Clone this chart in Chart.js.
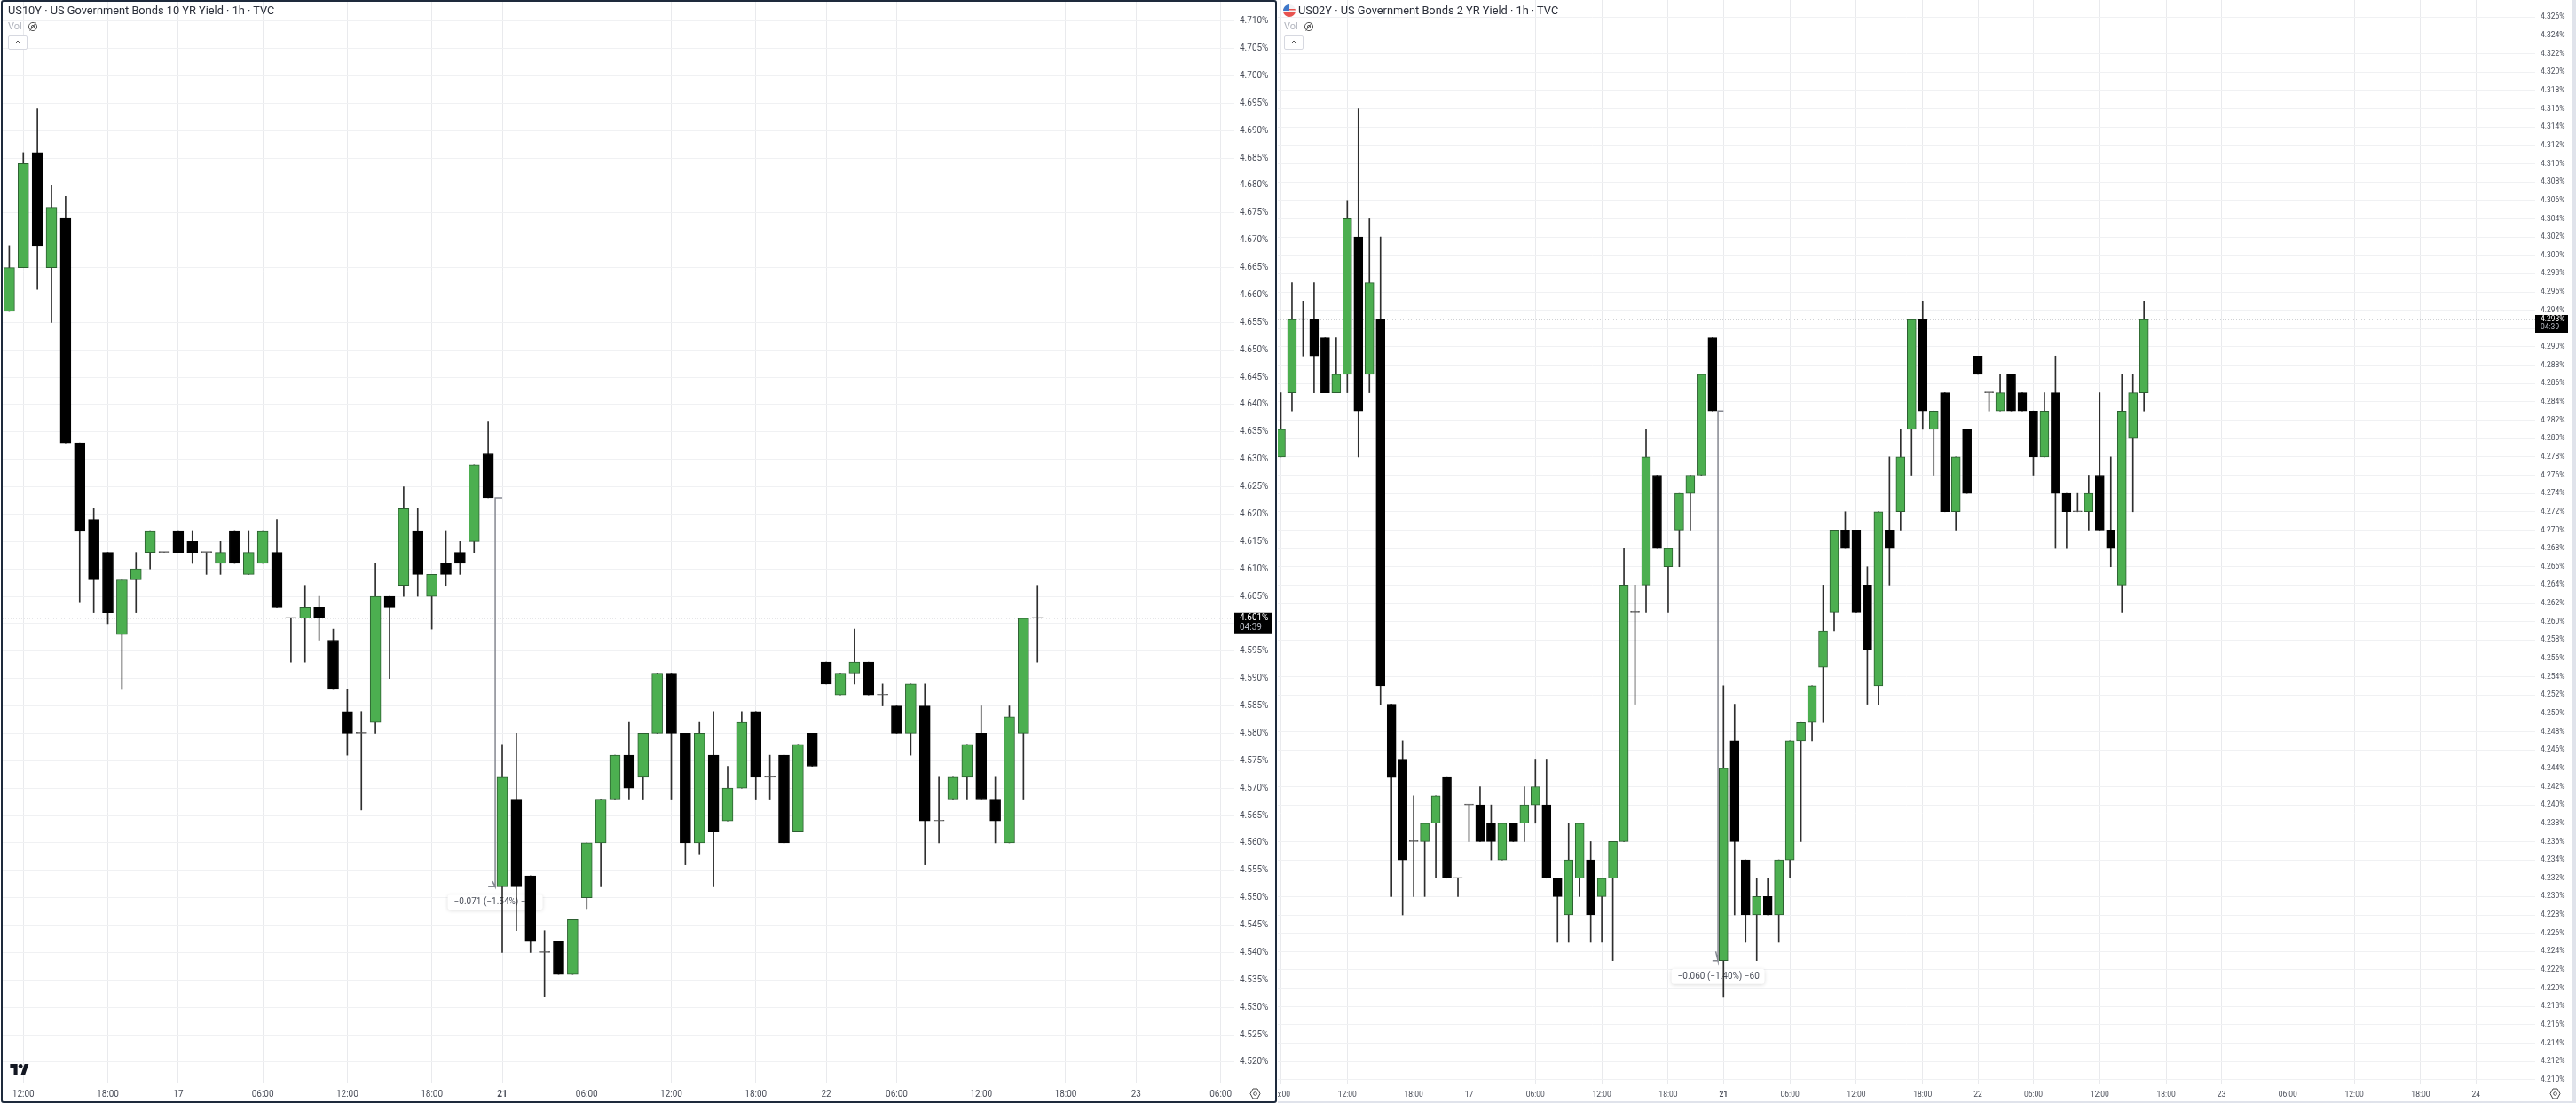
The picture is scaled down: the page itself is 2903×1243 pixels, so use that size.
<!DOCTYPE html>
<html>
<head>
<meta charset="utf-8">
<title>US10Y / US02Y</title>
<script src="https://cdn.jsdelivr.net/npm/chart.js@4/dist/chart.umd.min.js"></script>
<style>
    html, body { margin: 0; padding: 0; background: #fff; width: 2903px; height: 1243px; overflow: hidden; font-family: Roboto, sans-serif; }
    canvas { position: absolute; display: block; }
    .frame { position: absolute; box-sizing: border-box; pointer-events: none; }
    .title { position: absolute; font-size: 12.8px; line-height: 16px; color: #2a2e39; white-space: nowrap; }
    .vol { position: absolute; font-size: 11px; line-height: 14px; color: #b2b5be; }
    .icon { position: absolute; }
    .collapse { position: absolute; box-sizing: border-box; width: 22px; height: 16px; border: 1px solid #d6d8e0; border-radius: 2px; background: #fff; }
</style>
</head>
<body>
<canvas id="chart10y" width="1435" height="1241" style="left:3px;top:0"></canvas>
<canvas id="chart02y" width="1458" height="1241" style="left:1440px;top:0"></canvas>

<div class="frame" style="left:1px;top:0;width:1438px;height:1243px;border:2px solid #1e2a3c;border-radius:3px"></div>
<div class="frame" style="left:1440px;top:1241px;width:1463px;height:2px;background:#e0e3eb"></div>
<div class="frame" style="left:2898px;top:0;width:5px;height:1243px;background:#e0e3eb"></div>

<div class="title" style="left:9px;top:4px">US10Y · US Government Bonds 10 YR Yield · 1h · TVC</div>
<div class="vol" style="left:9px;top:23px">Vol</div>
<svg class="icon" style="left:31px;top:24px" width="12" height="12" viewBox="0 0 12 12" fill="none" stroke="#555" stroke-width="1"><circle cx="6" cy="6" r="4.6"/><circle cx="6" cy="6" r="1.6"/><path d="M2.5 10.5 9.5 1.5"/></svg>
<div class="collapse" style="left:9px;top:40px"></div>
<svg class="icon" style="left:16px;top:44px" width="8" height="6" viewBox="0 0 8 6" fill="none" stroke="#555" stroke-width="1"><path d="M1 5 4 2l3 3"/></svg>
<svg class="icon" style="left:11px;top:1199px" width="22" height="13" viewBox="0 0 36 22" fill="#131722"><path d="M14 22H7V7H0V0h14v22zM28 22h-8L27.5 0h8L28 22z"/><circle cx="20" cy="4" r="4"/></svg>
<svg class="icon" style="left:1408px;top:1226px" width="13" height="13" viewBox="0 0 13 13" fill="none" stroke="#444" stroke-width="1"><path d="M4 1h5l3 5.500-3 5.500H4L1 6.500z"/><circle cx="6.500" cy="6.500" r="1.800"/></svg>

<svg class="icon" style="left:1446px;top:5px" width="14" height="14" viewBox="0 0 14 14"><defs><clipPath id="flagClip"><circle cx="7" cy="7" r="7"/></clipPath></defs><g clip-path="url(#flagClip)"><rect width="14" height="14" fill="#f3f3f5"/><rect y="9" width="14" height="5" fill="#e8534f"/><rect y="5" width="14" height="1.500" fill="#e8534f"/><rect width="7" height="7" fill="#3f78c9"/></g></svg>
<div class="title" style="left:1463px;top:4px">US02Y · US Government Bonds 2 YR Yield · 1h · TVC</div>
<div class="vol" style="left:1447px;top:23px">Vol</div>
<svg class="icon" style="left:1469px;top:24px" width="12" height="12" viewBox="0 0 12 12" fill="none" stroke="#555" stroke-width="1"><circle cx="6" cy="6" r="4.6"/><circle cx="6" cy="6" r="1.6"/><path d="M2.5 10.5 9.5 1.5"/></svg>
<div class="collapse" style="left:1447px;top:40px"></div>
<svg class="icon" style="left:1454px;top:44px" width="8" height="6" viewBox="0 0 8 6" fill="none" stroke="#555" stroke-width="1"><path d="M1 5 4 2l3 3"/></svg>
<svg class="icon" style="left:2873px;top:1226px" width="13" height="13" viewBox="0 0 13 13" fill="none" stroke="#444" stroke-width="1"><path d="M4 1h5l3 5.500-3 5.500H4L1 6.500z"/><circle cx="6.500" cy="6.500" r="1.800"/></svg>

<script>
// ---- US10Y hourly candles ----
const us10yOpen = [
    4.657, 4.665, 4.686, 4.665, 4.674, 4.633, 4.619, 4.613, 4.598, 4.608,
    4.613, 4.613, 4.617, 4.615, 4.613, 4.611, 4.617, 4.609, 4.611, 4.613,
    4.601, 4.601, 4.603, 4.597, 4.584, 4.580, 4.582, 4.605, 4.607, 4.617,
    4.605, 4.611, 4.613, 4.615, 4.631, 4.552, 4.568, 4.554, 4.540, 4.542,
    4.536, 4.550, 4.560, 4.568, 4.576, 4.572, 4.580, 4.591, 4.580, 4.560,
    4.576, 4.564, 4.570, 4.584, 4.572, 4.576, 4.562, 4.580, 4.593, 4.587,
    4.591, 4.593, 4.587, 4.585, 4.580, 4.585, 4.564, 4.568, 4.572, 4.580,
    4.568, 4.560, 4.580, 4.601
];
const us10yClose = [
    4.665, 4.684, 4.669, 4.676, 4.633, 4.617, 4.608, 4.602, 4.608, 4.610,
    4.617, 4.613, 4.613, 4.613, 4.613, 4.613, 4.611, 4.613, 4.617, 4.603,
    4.601, 4.603, 4.601, 4.588, 4.580, 4.580, 4.605, 4.603, 4.621, 4.609,
    4.609, 4.609, 4.611, 4.629, 4.623, 4.572, 4.552, 4.542, 4.540, 4.536,
    4.546, 4.560, 4.568, 4.576, 4.570, 4.580, 4.591, 4.580, 4.560, 4.580,
    4.562, 4.570, 4.582, 4.572, 4.572, 4.560, 4.578, 4.574, 4.589, 4.591,
    4.593, 4.587, 4.587, 4.580, 4.589, 4.564, 4.564, 4.572, 4.578, 4.568,
    4.564, 4.583, 4.601, 4.601
];
const us10yHigh = [
    4.669, 4.686, 4.694, 4.680, 4.678, 4.633, 4.621, 4.613, 4.608, 4.613,
    4.617, 4.613, 4.617, 4.617, 4.613, 4.615, 4.617, 4.617, 4.617, 4.619,
    4.601, 4.607, 4.605, 4.599, 4.588, 4.584, 4.611, 4.605, 4.625, 4.621,
    4.609, 4.617, 4.615, 4.629, 4.637, 4.578, 4.580, 4.554, 4.544, 4.542,
    4.546, 4.560, 4.568, 4.576, 4.582, 4.580, 4.591, 4.591, 4.580, 4.582,
    4.584, 4.574, 4.584, 4.584, 4.576, 4.576, 4.578, 4.580, 4.593, 4.591,
    4.599, 4.593, 4.589, 4.585, 4.589, 4.589, 4.572, 4.572, 4.578, 4.585,
    4.572, 4.585, 4.601, 4.607
];
const us10yLow = [
    4.657, 4.665, 4.661, 4.655, 4.633, 4.604, 4.602, 4.600, 4.588, 4.602,
    4.610, 4.613, 4.613, 4.611, 4.609, 4.609, 4.611, 4.609, 4.611, 4.603,
    4.593, 4.593, 4.597, 4.588, 4.576, 4.566, 4.580, 4.590, 4.605, 4.605,
    4.599, 4.607, 4.609, 4.613, 4.623, 4.540, 4.544, 4.540, 4.532, 4.536,
    4.536, 4.548, 4.552, 4.568, 4.568, 4.568, 4.580, 4.568, 4.556, 4.558,
    4.552, 4.564, 4.570, 4.568, 4.568, 4.560, 4.562, 4.574, 4.589, 4.587,
    4.589, 4.587, 4.585, 4.580, 4.576, 4.556, 4.560, 4.568, 4.568, 4.568,
    4.560, 4.560, 4.568, 4.593
];

// ---- US02Y hourly candles ----
const us02yOpen = [
    4.278, 4.285, 4.293, 4.293, 4.291, 4.285, 4.287, 4.302, 4.287, 4.293,
    4.251, 4.245, 4.236, 4.236, 4.238, 4.243, 4.232, 4.240, 4.240, 4.238,
    4.234, 4.238, 4.238, 4.240, 4.240, 4.232, 4.228, 4.232, 4.234, 4.230,
    4.232, 4.236, 4.261, 4.264, 4.276, 4.266, 4.270, 4.274, 4.276, 4.291,
    4.223, 4.247, 4.234, 4.228, 4.230, 4.228, 4.234, 4.247, 4.249, 4.255,
    4.261, 4.270, 4.270, 4.264, 4.253, 4.270, 4.272, 4.281, 4.293, 4.281,
    4.285, 4.272, 4.281, 4.289, 4.285, 4.283, 4.287, 4.285, 4.283, 4.278,
    4.285, 4.274, 4.272, 4.272, 4.276, 4.270, 4.264, 4.280, 4.285
];
const us02yClose = [
    4.281, 4.293, 4.293, 4.289, 4.285, 4.287, 4.304, 4.283, 4.297, 4.253,
    4.243, 4.234, 4.236, 4.238, 4.241, 4.232, 4.232, 4.240, 4.236, 4.236,
    4.238, 4.236, 4.240, 4.242, 4.232, 4.230, 4.234, 4.238, 4.228, 4.232,
    4.236, 4.264, 4.261, 4.278, 4.268, 4.268, 4.274, 4.276, 4.287, 4.283,
    4.244, 4.236, 4.228, 4.230, 4.228, 4.234, 4.247, 4.249, 4.253, 4.259,
    4.270, 4.268, 4.261, 4.257, 4.272, 4.268, 4.278, 4.293, 4.283, 4.283,
    4.272, 4.278, 4.274, 4.287, 4.285, 4.285, 4.283, 4.283, 4.278, 4.283,
    4.274, 4.272, 4.272, 4.274, 4.270, 4.268, 4.283, 4.285, 4.293
];
const us02yHigh = [
    4.285, 4.297, 4.295, 4.297, 4.291, 4.291, 4.306, 4.316, 4.304, 4.302,
    4.251, 4.247, 4.241, 4.238, 4.241, 4.243, 4.232, 4.240, 4.242, 4.240,
    4.238, 4.238, 4.242, 4.245, 4.245, 4.232, 4.238, 4.238, 4.236, 4.232,
    4.236, 4.268, 4.264, 4.281, 4.276, 4.268, 4.274, 4.276, 4.287, 4.291,
    4.253, 4.251, 4.234, 4.232, 4.232, 4.234, 4.247, 4.249, 4.253, 4.264,
    4.270, 4.272, 4.270, 4.266, 4.272, 4.278, 4.281, 4.293, 4.295, 4.283,
    4.285, 4.278, 4.281, 4.289, 4.285, 4.287, 4.287, 4.285, 4.283, 4.285,
    4.289, 4.274, 4.274, 4.276, 4.285, 4.278, 4.287, 4.287, 4.295
];
const us02yLow = [
    4.278, 4.283, 4.289, 4.285, 4.285, 4.285, 4.285, 4.278, 4.285, 4.251,
    4.230, 4.228, 4.230, 4.230, 4.232, 4.232, 4.230, 4.236, 4.236, 4.234,
    4.234, 4.236, 4.236, 4.238, 4.232, 4.225, 4.225, 4.230, 4.225, 4.225,
    4.223, 4.236, 4.251, 4.261, 4.268, 4.261, 4.266, 4.270, 4.276, 4.283,
    4.219, 4.228, 4.225, 4.223, 4.228, 4.225, 4.232, 4.236, 4.247, 4.249,
    4.259, 4.268, 4.261, 4.251, 4.251, 4.264, 4.270, 4.276, 4.281, 4.276,
    4.272, 4.270, 4.274, 4.287, 4.283, 4.283, 4.283, 4.283, 4.276, 4.278,
    4.268, 4.268, 4.272, 4.270, 4.270, 4.266, 4.261, 4.272, 4.283
];

// ---- Axis ticks ----
const us10yYTicks = [
    4.710, 4.705, 4.700, 4.695, 4.690, 4.685, 4.680, 4.675, 4.670, 4.665,
    4.660, 4.655, 4.650, 4.645, 4.640, 4.635, 4.630, 4.625, 4.620, 4.615,
    4.610, 4.605, 4.600, 4.595, 4.590, 4.585, 4.580, 4.575, 4.570, 4.565,
    4.560, 4.555, 4.550, 4.545, 4.540, 4.535, 4.530, 4.525, 4.520
];
const us02yYTicks = [
    4.326, 4.324, 4.322, 4.320, 4.318, 4.316, 4.314, 4.312, 4.310, 4.308,
    4.306, 4.304, 4.302, 4.300, 4.298, 4.296, 4.294, 4.292, 4.290, 4.288,
    4.286, 4.284, 4.282, 4.280, 4.278, 4.276, 4.274, 4.272, 4.270, 4.268,
    4.266, 4.264, 4.262, 4.260, 4.258, 4.256, 4.254, 4.252, 4.250, 4.248,
    4.246, 4.244, 4.242, 4.240, 4.238, 4.236, 4.234, 4.232, 4.230, 4.228,
    4.226, 4.224, 4.222, 4.220, 4.218, 4.216, 4.214, 4.212, 4.210
];
const us10yTimeSlots = [1, 7, 12, 18, 24, 30, 35, 41, 47, 53, 58, 63, 69, 75, 80, 86];
const us10yTimeLabels = ["12:00", "18:00", "17", "06:00", "12:00", "18:00", "21", "06:00", "12:00", "18:00", "22", "06:00", "12:00", "18:00", "23", "06:00"];
const us02yTimeSlots = [0, 6, 12, 17, 23, 29, 35, 40, 46, 52, 58, 63, 68, 74, 80, 85, 91, 97, 103, 108];
const us02yTimeLabels = ["06:00", "12:00", "18:00", "17", "06:00", "12:00", "18:00", "21", "06:00", "12:00", "18:00", "22", "06:00", "12:00", "18:00", "23", "06:00", "12:00", "18:00", "24"];

// Last price tag and the measured drop on 21st
const us10yLast = 4.601;
const us02yLast = 4.293;
const lastCountdown = "04:39";
const us10yMeasure = [4.623, 4.552];
const us02yMeasure = [4.283, 4.223];
const us10yMeasureText = "\u22120.071 (\u22121.54%) \u221271";
const us02yMeasureText = "\u22120.060 (\u22121.40%) \u221260";

const FONT = "Roboto, sans-serif";
const GREEN = "#4caf50";
const GREEN_EDGE = "#2c5f30";
const BLACK = "#000000";

function candleColor(open, close, up, down, flat) {
    if (close > open) return up;
    if (close < open) return down;
    return flat;
}

/**
 * Draws one panel: wicks and bodies are thin/wide floating bars on a linear hour axis
 */
function buildPanel(canvasId, p) {
    const wicks = p.high.map((h, i) => ({ x: i, y: [p.low[i], h] }));
    const bodies = p.open.map((o, i) => ({ x: i, y: [o, p.close[i]] }));
    const bodyFill = p.open.map((o, i) => candleColor(o, p.close[i], GREEN, BLACK, "#555555"));
    const bodyEdge = p.open.map((o, i) => candleColor(o, p.close[i], GREEN_EDGE, BLACK, "#555555"));

    const [mTop, mBottom] = p.measure;
    const mx = p.measureSlot;
    const measureLine = [
        { x: mx + 0.5, y: mTop }, { x: mx, y: mTop }, { x: mx, y: mBottom },
        { x: mx - 0.2, y: mBottom + 0.001 }, { x: mx, y: mBottom }, { x: mx - 0.5, y: mBottom }
    ];

    const overlay = {
        id: "overlay",
        // the measure label sits under the candles
        beforeDatasetsDraw(chart) {
            const { ctx, scales } = chart;
            const cx = scales.x.getPixelForValue(mx);
            const top = scales.y.getPixelForValue(mBottom) + 9;
            ctx.save();
            ctx.shadowColor = "rgba(0,0,0,0.14)";
            ctx.shadowBlur = 4;
            ctx.shadowOffsetY = 1;
            ctx.fillStyle = "#ffffff";
            ctx.beginPath();
            ctx.roundRect(cx - p.measureBox / 2, top, p.measureBox, 17, 3);
            ctx.fill();
            ctx.restore();
            ctx.save();
            ctx.fillStyle = "#4a4e59";
            ctx.font = `10px ${FONT}`;
            ctx.textBaseline = "middle";
            ctx.fillText(p.measureText, cx - p.measureBox / 2 + 7, top + 8.5);
            ctx.restore();
        },
        afterDraw(chart) {
            const { ctx, scales, chartArea } = chart;
            const y = scales.y.getPixelForValue(p.last);
            ctx.save();
            ctx.fillStyle = "#000000";
            ctx.fillRect(chartArea.right, y - p.tagAbove, p.tagWidth, p.tagHeight);
            ctx.font = `${p.axisFont}px ${FONT}`;
            ctx.textBaseline = "middle";
            ctx.fillStyle = "#ffffff";
            ctx.fillText(p.last.toFixed(3) + "%", chartArea.right + 6, y);
            ctx.fillStyle = "#b8bbc4";
            ctx.fillText(lastCountdown, chartArea.right + 6, y + p.tagLine);
            ctx.restore();
        }
    };

    return new Chart(document.getElementById(canvasId), {
        type: "bar",
        data: {
            datasets: [
                {
                    data: bodies,
                    grouped: false,
                    barThickness: p.bodyWidth,
                    minBarLength: 1,
                    backgroundColor: bodyFill,
                    borderColor: bodyEdge,
                    borderWidth: 1,
                    borderSkipped: false,
                    order: 1
                },
                {
                    data: wicks,
                    grouped: false,
                    barThickness: 1,
                    backgroundColor: "#2e2e2e",
                    borderWidth: 0,
                    order: 2
                },
                {
                    type: "line",
                    data: measureLine,
                    borderColor: "#858891",
                    borderWidth: 1.5,
                    pointRadius: 0,
                    order: 3
                },
                {
                    type: "line",
                    data: [{ x: p.xMin, y: p.last }, { x: p.xMax, y: p.last }],
                    borderColor: "#9a9da5",
                    borderWidth: 1,
                    borderDash: [1, 2],
                    pointRadius: 0,
                    order: 4
                }
            ]
        },
        options: {
            responsive: false,
            animation: false,
            devicePixelRatio: 1,
            layout: { padding: 0, autoPadding: false },
            plugins: { legend: { display: false }, tooltip: { enabled: false } },
            scales: {
                x: {
                    type: "linear",
                    min: p.xMin,
                    max: p.xMax,
                    offset: false,
                    bounds: "data",
                    // keep the plot edges fixed, tick labels may be cut by the canvas
                    afterFit: s => { s.height = 1241 - p.plotBottom; s.paddingLeft = 0; s.paddingRight = 0; },
                    afterBuildTicks: s => { s.ticks = p.timeSlots.map(value => ({ value })); },
                    border: { display: false },
                    grid: { offset: false, color: "#e9eaed", drawTicks: false },
                    ticks: {
                        autoSkip: false,
                        maxRotation: 0,
                        padding: p.timePadding,
                        color: "#4a4e59",
                        font: ctx => ({
                            family: FONT,
                            size: p.timeFont,
                            weight: ctx.tick && p.boldSlots.includes(ctx.tick.value) ? "bold" : "normal"
                        }),
                        callback: v => p.timeLabels[p.timeSlots.indexOf(v)]
                    }
                },
                y: {
                    type: "linear",
                    position: "right",
                    min: p.yMin,
                    max: p.yMax,
                    bounds: "data",
                    afterFit: s => { s.width = p.axisWidth; s.paddingTop = 0; s.paddingBottom = 0; },
                    afterBuildTicks: s => { s.ticks = p.yTicks.map(value => ({ value })); },
                    border: { display: false },
                    grid: { color: "#f0f1f3", drawTicks: false },
                    ticks: {
                        padding: 6,
                        color: "#4a4e59",
                        font: { family: FONT, size: p.axisFont },
                        callback: v => v.toFixed(3) + "%"
                    }
                }
            }
        },
        plugins: [overlay]
    });
}

document.addEventListener("DOMContentLoaded", () => {
    buildPanel("chart10y", {
        open: us10yOpen, close: us10yClose, high: us10yHigh, low: us10yLow,
        yTicks: us10yYTicks, timeSlots: us10yTimeSlots, timeLabels: us10yTimeLabels, boldSlots: [35],
        last: us10yLast, measure: us10yMeasure, measureSlot: 34.5, measureText: us10yMeasureText, measureBox: 107,
        xMin: -0.466, xMax: 86.97, yMin: 4.5161, yMax: 4.71384,
        plotBottom: 1221, axisWidth: 47, bodyWidth: 12, axisFont: 10, timeFont: 10, timePadding: 6,
        tagAbove: 6, tagHeight: 23, tagWidth: 43, tagLine: 11
    });
    buildPanel("chart02y", {
        open: us02yOpen, close: us02yClose, high: us02yHigh, low: us02yLow,
        yTicks: us02yYTicks, timeSlots: us02yTimeSlots, timeLabels: us02yTimeLabels, boldSlots: [40],
        last: us02yLast, measure: us02yMeasure, measureSlot: 39.5, measureText: us02yMeasureText, measureBox: 105,
        xMin: -0.28, xMax: 113.35, yMin: 4.2095, yMax: 4.32787,
        plotBottom: 1222, axisWidth: 41, bodyWidth: 10, axisFont: 8.5, timeFont: 8.5, timePadding: 7,
        tagAbove: 5, tagHeight: 20, tagWidth: 37, tagLine: 9
    });
});
</script>
</body>
</html>
